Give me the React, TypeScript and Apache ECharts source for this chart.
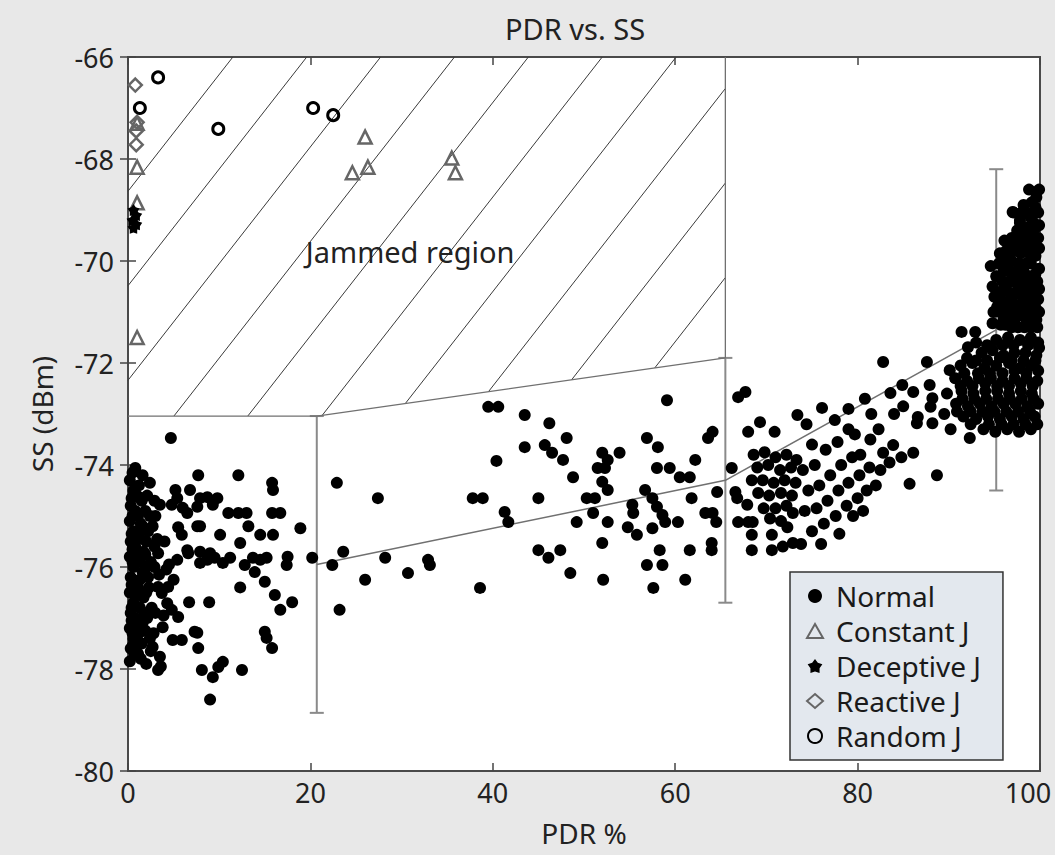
import React, { useEffect, useRef } from "react";
import * as echarts from "echarts";

const FONT = "'Noto Sans', 'Open Sans', sans-serif";

// ---------- data ----------
const seriesNames = ["Normal", "Constant J", "Deceptive J", "Reactive J", "Random J"];

const normalLowPDR: number[][] = [
  [0.2,-74.3],[0.6,-74.5],[0.3,-74.8],[0.8,-74.9],[0.2,-75.1],[0.6,-75.3],[0.3,-75.5],[0.8,-75.6],[0.2,-75.8],[0.6,-76.0],
  [0.3,-76.2],[0.8,-76.3],[0.2,-76.5],[0.6,-76.7],[0.3,-76.9],[0.8,-77.0],[0.2,-77.2],[0.6,-77.4],[0.3,-77.6],[0.7,-77.7],[0.2,-77.85],
  [1.2,-74.4],[1.5,-74.7],[1.1,-75.0],[1.6,-75.2],[1.2,-75.4],[1.7,-75.7],[1.3,-75.9],[1.6,-76.1],[1.1,-76.4],[1.7,-76.6],
  [1.3,-76.8],[1.6,-77.1],[1.2,-77.3],[1.5,-77.5],[1.1,-77.7],
  [2.1,-74.6],[2.4,-75.0],[2.0,-75.5],[2.5,-75.9],[2.2,-76.2],[2.6,-76.8],[2.1,-77.0],[2.4,-77.4],[2.0,-77.9],
  [0.5,-74.15],[1.0,-74.6],[0.4,-74.65],[1.9,-74.9],[0.5,-75.0],[1.4,-75.15],[0.4,-75.35],[2.2,-75.3],[1.0,-75.45],
  [0.5,-75.65],[1.1,-75.8],[2.0,-76.0],[0.5,-75.9],[1.3,-76.25],[0.4,-76.35],[2.0,-76.5],[0.9,-76.55],[0.4,-76.8],
  [1.8,-76.9],[0.9,-77.15],[0.4,-77.05],[1.9,-77.25],[0.9,-77.5],[0.5,-77.3],[1.4,-77.8],[0.5,-77.55],[2.5,-77.65],
  [1.9,-75.75],[2.3,-76.4],[2.9,-74.7],[2.9,-75.6],
  [0.8,-74.06],[1.6,-74.2],[2.4,-74.35],
  [3.0,-75.0],[3.2,-75.45],[2.9,-76.0],[3.4,-76.15],[3.0,-76.9],[2.8,-77.3],[4.0,-75.5],[4.2,-76.05],[3.9,-76.95],
  [4.5,-75.95],[5.0,-76.25],[3.6,-77.95],[2.7,-75.2],
  [4.7,-73.47],[7.7,-74.2],[12.1,-74.2],[15.8,-74.35],[15.9,-74.49],[22.9,-74.35],[5.2,-74.49],[6.8,-74.49],[3.5,-74.78],
  [4.8,-74.78],[5.4,-74.65],[6.0,-74.84],[7.9,-74.65],[8.7,-74.63],[9.8,-74.65],[9.3,-74.78],[7.6,-74.82],[6.5,-74.94],
  [11.0,-74.94],[12.1,-74.94],[13.0,-74.94],[15.8,-74.94],[16.7,-74.94],[5.5,-75.22],[7.6,-75.2],[7.9,-75.2],[5.9,-75.37],
  [10.1,-75.37],[13.2,-75.2],[14.5,-75.37],[15.9,-75.37],[18.9,-75.24],[12.3,-75.53],[6.5,-75.67],[7.9,-75.7],[9.0,-75.73],
  [3.3,-75.73],[5.4,-75.86],[6.6,-75.73],[7.9,-75.92],[8.7,-75.86],[9.5,-75.82],[10.4,-75.92],[11.2,-75.82],[12.8,-75.96],
  [13.7,-75.82],[14.5,-75.86],[15.2,-75.82],[13.9,-76.1],[15.0,-76.29],[17.5,-75.8],[17.4,-75.96],[20.2,-75.82],[22.4,-75.96],
  [23.6,-75.7],[3.3,-76.39],[3.7,-76.51],[4.4,-76.39],[6.7,-76.69],[8.9,-76.69],[12.3,-76.4],[16.1,-76.55],[16.7,-76.84],
  [18.0,-76.69],[23.2,-76.84],[4.3,-76.71],[4.8,-76.84],[5.5,-76.98],[3.8,-77.18],[4.9,-77.43],[5.9,-77.43],[7.3,-77.27],
  [7.6,-77.29],[7.7,-77.59],[15.0,-77.27],[15.2,-77.39],[15.8,-77.59],[2.7,-77.57],[3.5,-77.76],[3.3,-78.02],[8.1,-78.02],
  [9.3,-78.16],[9.9,-77.96],[10.4,-77.86],[12.5,-78.02],[9.0,-78.6],
];

const normalMidPDR: number[][] = [
  [27.4,-74.65],[37.8,-74.65],[38.9,-74.65],[26.0,-76.25],[28.2,-75.82],[30.7,-76.12],[32.9,-75.86],[33.1,-75.96],[38.6,-76.41],
  [39.5,-72.86],[40.6,-72.86],[43.5,-73.02],[46.2,-73.18],[48.1,-73.47],[43.5,-73.65],[45.7,-73.61],[46.5,-73.76],[47.7,-73.9],
  [48.8,-74.24],[40.4,-73.92],[59.1,-72.73],[56.9,-73.47],[58.1,-73.65],[52.0,-73.76],[52.6,-73.9],[53.9,-73.76],[51.5,-74.06],
  [52.3,-74.06],[58.0,-74.06],[59.4,-74.06],[60.5,-74.24],[61.6,-74.24],[62.2,-73.9],[63.6,-73.47],[64.1,-73.35],
  [45.0,-74.65],[41.3,-74.92],[41.7,-75.12],[50.3,-74.65],[51.2,-74.65],[52.0,-74.33],[52.6,-74.49],[49.2,-75.12],[51.0,-74.94],
  [52.6,-75.12],[52.0,-75.53],[55.3,-74.78],[55.4,-74.94],[56.7,-74.49],[57.5,-74.65],[58.0,-74.82],[58.6,-74.98],[58.9,-75.12],
  [60.3,-75.12],[54.8,-75.22],[55.8,-75.37],[57.5,-75.24],[61.8,-74.65],[63.3,-74.94],[64.1,-74.94],[64.5,-75.12],[64.6,-74.53],
  [45.0,-75.67],[46.1,-75.82],[47.4,-75.67],[58.3,-75.67],[61.6,-75.67],[64.0,-75.53],[64.0,-75.67],[56.9,-75.96],[58.6,-75.96],
  [48.5,-76.12],[52.1,-76.25],[57.6,-76.41],[61.1,-76.25],
];

const normalHighPDR: number[][] = [
  [66.2,-74.06],[66.9,-72.67],[67.7,-72.57],[68.0,-73.35],[69.3,-73.16],[70.9,-73.35],[73.4,-73.02],[66.6,-74.53],[66.8,-74.65],
  [67.9,-74.78],[66.9,-75.12],[68.0,-75.12],[68.5,-75.12],[68.4,-75.37],[70.6,-75.37],[68.4,-75.67],[70.6,-75.67],[72.9,-74.94],
  [72.3,-75.22],[72.9,-75.53],
  [68.6,-73.8],[69.8,-73.75],[71.0,-73.85],[72.2,-73.8],[73.3,-73.9],[69.0,-74.05],[70.2,-74.0],[71.5,-74.1],[72.7,-74.05],
  [68.4,-74.3],[69.6,-74.3],[70.8,-74.35],[72.0,-74.3],[73.2,-74.35],[69.1,-74.55],[70.3,-74.6],[71.6,-74.55],[72.8,-74.6],
  [69.7,-74.85],[71.0,-74.85],[72.2,-74.8],[70.4,-75.05],[71.6,-75.1],
  [74.4,-73.2],[75.0,-73.6],[76.1,-72.88],[77.5,-73.12],[74.0,-74.1],[75.3,-74.0],[76.5,-73.7],[77.8,-73.55],[79.0,-73.3],
  [79.7,-73.4],[74.6,-74.5],[75.8,-74.4],[77.0,-74.2],[78.2,-74.0],[79.4,-73.85],[80.3,-73.8],[81.4,-73.5],[82.3,-73.3],
  [83.9,-73.61],[82.8,-73.76],[86.1,-73.76],[74.2,-74.9],[75.5,-74.85],[76.7,-74.7],[77.9,-74.5],[79.0,-74.35],[80.2,-74.2],
  [81.3,-74.05],[82.5,-74.1],[83.5,-73.95],[84.8,-73.85],[75.0,-75.3],[76.3,-75.15],[77.6,-75.0],[78.8,-74.8],[80.0,-74.65],
  [81.0,-74.5],[82.0,-74.4],[79.5,-75.0],[80.6,-74.9],[73.8,-75.55],[71.8,-75.6],[76.0,-75.55],[78.0,-75.35],[85.7,-74.37],
  [88.7,-74.2],
  [82.8,-71.98],[84.9,-72.43],[83.6,-72.59],[86.1,-72.57],[87.9,-72.43],[87.6,-71.98],[88.2,-72.69],[88.0,-72.86],[86.6,-73.06],
  [86.5,-73.18],[88.2,-73.18],[80.8,-72.7],[79.0,-72.9],[81.5,-73.0],[84.0,-73.0],[85.0,-72.85],
];

const normalFullPDR: number[][] = [
  [98.8,-68.6],[99.6,-68.75],[98.2,-68.9],[99.8,-69.05],[97.1,-69.05],[99.0,-69.15],[97.8,-69.25],[99.5,-69.35],[98.3,-69.45],
  [99.8,-69.55],[97.4,-69.6],[98.9,-69.7],[96.3,-69.8],[97.9,-69.85],[99.5,-69.9],[96.9,-70.0],[98.5,-70.05],[99.9,-70.15],
  [96.0,-70.2],[97.4,-70.25],[98.8,-70.3],[96.6,-70.4],[98.0,-70.45],[99.4,-70.5],[95.7,-70.6],[97.2,-70.65],[98.6,-70.7],
  [99.8,-70.75],[96.4,-70.85],[97.8,-70.9],[99.1,-70.95],[95.6,-71.0],[96.9,-71.05],[98.3,-71.1],[99.6,-71.15],[96.2,-71.25],
  [97.6,-71.3],[99.0,-71.3],[94.8,-71.22],[97.0,-69.04],[97.8,-69.2],[98.1,-69.5],[99.2,-69.6],[96.2,-69.92],[96.9,-69.55],
  [99.1,-68.85],[98.5,-69.05],[99.3,-69.25],[98.6,-69.35],[97.5,-69.4],[99.0,-69.5],[98.2,-69.65],[97.3,-69.8],[98.8,-69.85],
  [96.5,-69.95],[99.0,-70.05],[97.7,-70.05],[96.3,-70.1],[98.2,-70.2],[99.5,-70.25],[97.0,-70.4],[98.8,-70.45],[99.7,-70.4],
  [95.9,-70.4],[96.5,-70.6],[97.9,-70.65],[99.2,-70.65],[96.0,-70.8],[97.2,-70.85],[98.5,-70.9],[99.6,-70.95],[95.3,-70.9],
  [96.3,-71.05],[97.6,-71.05],[99.0,-71.1],[95.7,-71.25],[96.9,-71.3],[98.3,-71.3],[99.7,-71.3],[95.0,-70.7],[94.9,-71.0],
  [95.2,-70.3],[95.5,-70.05],[96.8,-70.2],[97.9,-70.3],[99.2,-70.35],[96.1,-70.55],[97.6,-70.5],[98.3,-70.6],[99.9,-70.55],
  [95.4,-70.75],[96.8,-70.75],[98.1,-70.8],[99.4,-70.8],[96.0,-71.15],[97.2,-71.2],[98.6,-71.2],[99.9,-71.0],[97.0,-69.7],
  [98.4,-69.8],[99.9,-69.75],[98.0,-69.05],[99.9,-69.3],[97.7,-69.55],[99.5,-68.95],[99.9,-68.6],[96.1,-69.6],[95.6,-69.85],
  [94.8,-70.5],[94.6,-70.1],
  [91.4,-71.39],[92.9,-71.39],[92.1,-71.69],[90.1,-72.14],[92.3,-73.47],
  [95.2,-71.55],[96.5,-71.5],[97.8,-71.55],[99.0,-71.5],[99.8,-71.6],
  [94.2,-71.65],[95.9,-71.65],[97.1,-71.65],[98.7,-71.65],[99.9,-71.7],[93.0,-71.6],
  [93.6,-71.8],[94.8,-71.75],[96.0,-71.85],[97.2,-71.8],[98.4,-71.8],[99.6,-71.85],
  [92.0,-71.9],[93.0,-71.95],[94.2,-71.95],[95.6,-71.9],[96.9,-71.95],[98.2,-71.95],[99.5,-71.95],
  [91.3,-72.05],[92.6,-72.0],[93.9,-72.1],[95.2,-72.05],[96.6,-72.0],[97.8,-72.1],[99.0,-72.05],
  [91.7,-72.2],[93.2,-72.2],[94.5,-72.2],[95.9,-72.2],[97.2,-72.15],[98.5,-72.2],[99.8,-72.15],
  [90.7,-72.3],[92.0,-72.35],[93.3,-72.3],[94.6,-72.3],[95.9,-72.35],[97.2,-72.3],[98.5,-72.3],[99.7,-72.35],
  [91.3,-72.45],[92.6,-72.45],[94.0,-72.4],[95.3,-72.45],[96.6,-72.45],[97.9,-72.4],[99.2,-72.45],
  [91.4,-72.55],[92.7,-72.6],[94.0,-72.55],[95.3,-72.55],[96.6,-72.6],[97.9,-72.55],[99.1,-72.6],
  [91.5,-72.7],[92.8,-72.7],[94.1,-72.7],[95.4,-72.7],[96.7,-72.7],[98.0,-72.7],[99.3,-72.7],
  [90.8,-72.8],[92.1,-72.85],[93.4,-72.8],[94.7,-72.85],[96.0,-72.8],[97.3,-72.8],[98.6,-72.85],[99.8,-72.8],
  [90.9,-72.95],[92.4,-72.95],[93.7,-72.95],[95.0,-72.95],[96.3,-72.95],[97.6,-72.95],[98.9,-72.95],
  [91.6,-73.05],[93.0,-73.1],[94.3,-73.05],[95.6,-73.1],[96.9,-73.05],[98.2,-73.1],[99.4,-73.05],
  [92.4,-73.2],[94.4,-73.2],[95.8,-73.2],[97.1,-73.2],[98.4,-73.2],[99.7,-73.2],
  [93.8,-73.3],[95.1,-73.35],[96.4,-73.3],[97.7,-73.35],[99.0,-73.3],
  [89.8,-72.6],[90.2,-73.3],[89.5,-73.0],
];

const constantJ: number[][] = [
  [1.0,-68.16],[1.0,-68.86],[1.0,-71.5],[1.0,-67.3],[26.0,-67.57],[24.6,-68.27],[26.3,-68.16],[35.5,-67.98],[35.9,-68.27],
];
const deceptiveJ: number[][] = [
  [0.6,-69.0],[0.9,-69.1],[0.5,-69.2],[0.9,-69.28],[0.6,-69.35],
];
const reactiveJ: number[][] = [
  [0.8,-66.55],[1.0,-67.28],[0.9,-67.45],[0.9,-67.72],
];
const randomJ: number[][] = [
  [3.3,-66.4],[1.3,-67.0],[9.9,-67.41],[20.3,-67.0],[22.5,-67.14],
];

// error bars: PDR position, low and high SS, and mean SS
const errPDR = [20.7, 65.5, 95.2];
const errLow = [-78.86, -76.7, -74.5];
const errHigh = [-73.04, -71.9, -68.2];
const errMean = [-75.95, -74.3, -71.35];

// jammed region boundary (left edge of plot -> right boundary up to top)
const jamBoundX = [0, 20.7, 65.5, 65.5];
const jamBoundY = [-73.04, -73.04, -71.9, -66];

// hatching: PDR positions where hatch lines cross the top (-66 dBm), run in PDR per 10 dBm
const hatchStarts = [11.5, 19.6, 27.7, 35.8, 43.9, 52.0, 60.1, 68.2, 76.3, 84.4];
const hatchRunPer10dB = 43.7;

const jammedLabel = { text: "Jammed region", pdr: 19.5, ss: -69.82 };

const pentagon =
  "path://M0,-10L3.64,-5.02L9.51,-3.09L5.9,1.92L5.88,8.09L0,6.2L-5.88,8.09L-5.9,1.92L-9.51,-3.09L-3.64,-5.02Z";

export default function App() {
  const ref = useRef<HTMLDivElement>(null);

  useEffect(() => {
    if (!ref.current) return;
    const chart = echarts.init(ref.current, undefined, { renderer: "svg" });

    // polygon of the jammed region: (0,-66) (65.5,-66) (65.5,-71.9) (20.7,-73.04) (0,-73.04)
    const polyX = [0, jamBoundX[2], ...jamBoundX.slice(0, 3).reverse()];
    const polyY = [-66, -66, ...jamBoundY.slice(0, 3).reverse()];

    const axisLineStyle = { color: "#4a4a4a", width: 2 };
    const tickStyle = { inside: true, length: 8, lineStyle: { color: "#444", width: 1.5 } };

    const option: any = {
      animation: false,
      backgroundColor: "#e8e8e8",
      title: {
        text: "PDR vs. SS",
        left: 500,
        top: 9,
        textStyle: { fontSize: 29, fontWeight: "normal", color: "#222", fontFamily: FONT },
      },
      grid: {
        left: 128, top: 57, width: 912, height: 714,
        outerBoundsMode: "none",
        containLabel: false,
        show: true, backgroundColor: "#ffffff", borderColor: "#4a4a4a", borderWidth: 2,
      },
      legend: {
        data: seriesNames,
        orient: "vertical",
        left: 790,
        top: 572,
        backgroundColor: "#e3e8ee",
        borderColor: "#333",
        borderWidth: 1.5,
        borderRadius: 0,
        padding: [10, 22, 10, 16],
        itemGap: 7,
        itemWidth: 16,
        itemHeight: 14,
        textStyle: { fontSize: 28, color: "#1a1a1a", fontFamily: FONT, padding: [0, 0, 0, 8] },
      },
      xAxis: [
        {
          type: "value", min: 0, max: 100, interval: 20, position: "bottom",
          name: "PDR %", nameLocation: "middle", nameGap: 48,
          nameTextStyle: { fontSize: 28, color: "#222", fontFamily: FONT },
          axisLine: { show: true, lineStyle: axisLineStyle },
          axisTick: tickStyle,
          axisLabel: {
            fontSize: 27, color: "#222", margin: 8, fontFamily: FONT,
            formatter: (v: number) => (v === 100 ? "{last|100}" : String(v)),
            rich: { last: { fontSize: 27, color: "#222", fontFamily: FONT, padding: [0, 24, 0, 0] } },
          },
          splitLine: { show: false },
        },
        {
          type: "value", min: 0, max: 100, interval: 20, position: "top",
          axisLine: { show: true, lineStyle: axisLineStyle },
          axisTick: tickStyle,
          axisLabel: { show: false },
          splitLine: { show: false },
        },
      ],
      yAxis: [
        {
          type: "value", min: -80, max: -66, interval: 2, position: "left",
          name: "SS (dBm)", nameLocation: "middle", nameGap: 72,
          nameTextStyle: { fontSize: 28, color: "#222", fontFamily: FONT },
          axisLine: { show: true, lineStyle: axisLineStyle },
          axisTick: tickStyle,
          axisLabel: { fontSize: 27, color: "#222", margin: 14, fontFamily: FONT },
          splitLine: { show: false },
        },
        {
          type: "value", min: -80, max: -66, interval: 2, position: "right",
          axisLine: { show: true, lineStyle: axisLineStyle },
          axisTick: tickStyle,
          axisLabel: { show: false },
          splitLine: { show: false },
        },
      ],
      series: [
        {
          type: "custom",
          name: "hatch",
          silent: true,
          z: 1,
          data: [[0, -66]],
          renderItem: (_params: any, api: any) => {
            const poly = polyX.map((x, i) => api.coord([x, polyY[i]]));
            const children: any[] = [];
            for (const x0 of hatchStarts) {
              const A = api.coord([x0, -66]);
              const B = api.coord([x0 - hatchRunPer10dB, -76]);
              const D = [B[0] - A[0], B[1] - A[1]];
              const ts: number[] = [];
              for (let i = 0; i < poly.length; i++) {
                const P = poly[i];
                const Q = poly[(i + 1) % poly.length];
                const E = [Q[0] - P[0], Q[1] - P[1]];
                const den = D[0] * E[1] - D[1] * E[0];
                if (Math.abs(den) < 1e-9) continue;
                const w = [P[0] - A[0], P[1] - A[1]];
                const t = (w[0] * E[1] - w[1] * E[0]) / den;
                const s = (w[0] * D[1] - w[1] * D[0]) / den;
                if (s >= -1e-6 && s <= 1 + 1e-6) ts.push(t);
              }
              if (ts.length >= 2) {
                const t0 = Math.min(...ts);
                const t1 = Math.max(...ts);
                if (t1 - t0 > 1e-6) {
                  children.push({
                    type: "line",
                    shape: {
                      x1: A[0] + t0 * D[0], y1: A[1] + t0 * D[1],
                      x2: A[0] + t1 * D[0], y2: A[1] + t1 * D[1],
                    },
                    style: { stroke: "#3a3a3a", lineWidth: 1 },
                  });
                }
              }
            }
            return { type: "group", children };
          },
        },
        {
          type: "custom",
          name: "jamLabel",
          silent: true,
          z: 2,
          data: [[jammedLabel.pdr, jammedLabel.ss]],
          renderItem: (_params: any, api: any) => {
            const p = api.coord([api.value(0), api.value(1)]);
            return {
              type: "text",
              x: p[0],
              y: p[1],
              style: {
                text: jammedLabel.text,
                fill: "#222",
                fontSize: 29,
                fontFamily: FONT,
                align: "left",
                verticalAlign: "middle",
                textAlign: "left",
                textVerticalAlign: "middle",
              },
            };
          },
        },
        {
          type: "line",
          name: "boundary",
          silent: true,
          z: 2,
          symbol: "none",
          data: jamBoundX.map((x, i) => [x, jamBoundY[i]]),
          lineStyle: { color: "#707070", width: 1.3 },
        },
        {
          type: "line",
          name: "trend",
          silent: true,
          z: 2,
          symbol: "none",
          data: errPDR.map((x, i) => [x, errMean[i]]),
          lineStyle: { color: "#707070", width: 1.5 },
        },
        {
          type: "custom",
          name: "errorbars",
          silent: true,
          z: 2,
          data: errPDR.map((x, i) => [x, errLow[i], errHigh[i]]),
          renderItem: (_params: any, api: any) => {
            const lo = api.coord([api.value(0), api.value(1)]);
            const hi = api.coord([api.value(0), api.value(2)]);
            const hw = 7;
            const st = { stroke: "#8a8a8a", lineWidth: 2 };
            return {
              type: "group",
              children: [
                { type: "line", shape: { x1: lo[0], y1: lo[1], x2: hi[0], y2: hi[1] }, style: st },
                { type: "line", shape: { x1: lo[0] - hw, y1: lo[1], x2: lo[0] + hw, y2: lo[1] }, style: st },
                { type: "line", shape: { x1: hi[0] - hw, y1: hi[1], x2: hi[0] + hw, y2: hi[1] }, style: st },
              ],
            };
          },
        },
        {
          type: "scatter",
          name: "Normal",
          z: 3,
          symbol: "circle",
          symbolSize: 12,
          data: [...normalLowPDR, ...normalMidPDR, ...normalHighPDR, ...normalFullPDR],
          itemStyle: { color: "#000", opacity: 1 },
        },
        {
          type: "scatter",
          name: "Constant J",
          z: 4,
          symbol: "triangle",
          symbolSize: 13,
          data: constantJ,
          itemStyle: { color: "rgba(255,255,255,0)", borderColor: "#666", borderWidth: 2.5, opacity: 1 },
        },
        {
          type: "scatter",
          name: "Deceptive J",
          z: 4,
          symbol: pentagon,
          symbolSize: 12,
          data: deceptiveJ,
          itemStyle: { color: "#000", opacity: 1 },
        },
        {
          type: "scatter",
          name: "Reactive J",
          z: 4,
          symbol: "diamond",
          symbolSize: 13,
          data: reactiveJ,
          itemStyle: { color: "rgba(255,255,255,0)", borderColor: "#666", borderWidth: 2.5, opacity: 1 },
        },
        {
          type: "scatter",
          name: "Random J",
          z: 4,
          symbol: "circle",
          symbolSize: 11,
          data: randomJ,
          itemStyle: { color: "rgba(255,255,255,0)", borderColor: "#000", borderWidth: 3, opacity: 1 },
        },
      ],
    };

    chart.setOption(option);
    return () => chart.dispose();
  }, []);

  return (
    <div
      ref={ref}
      style={{ position: "fixed", left: 0, top: 0, width: 1055, height: 855 }}
    />
  );
}
